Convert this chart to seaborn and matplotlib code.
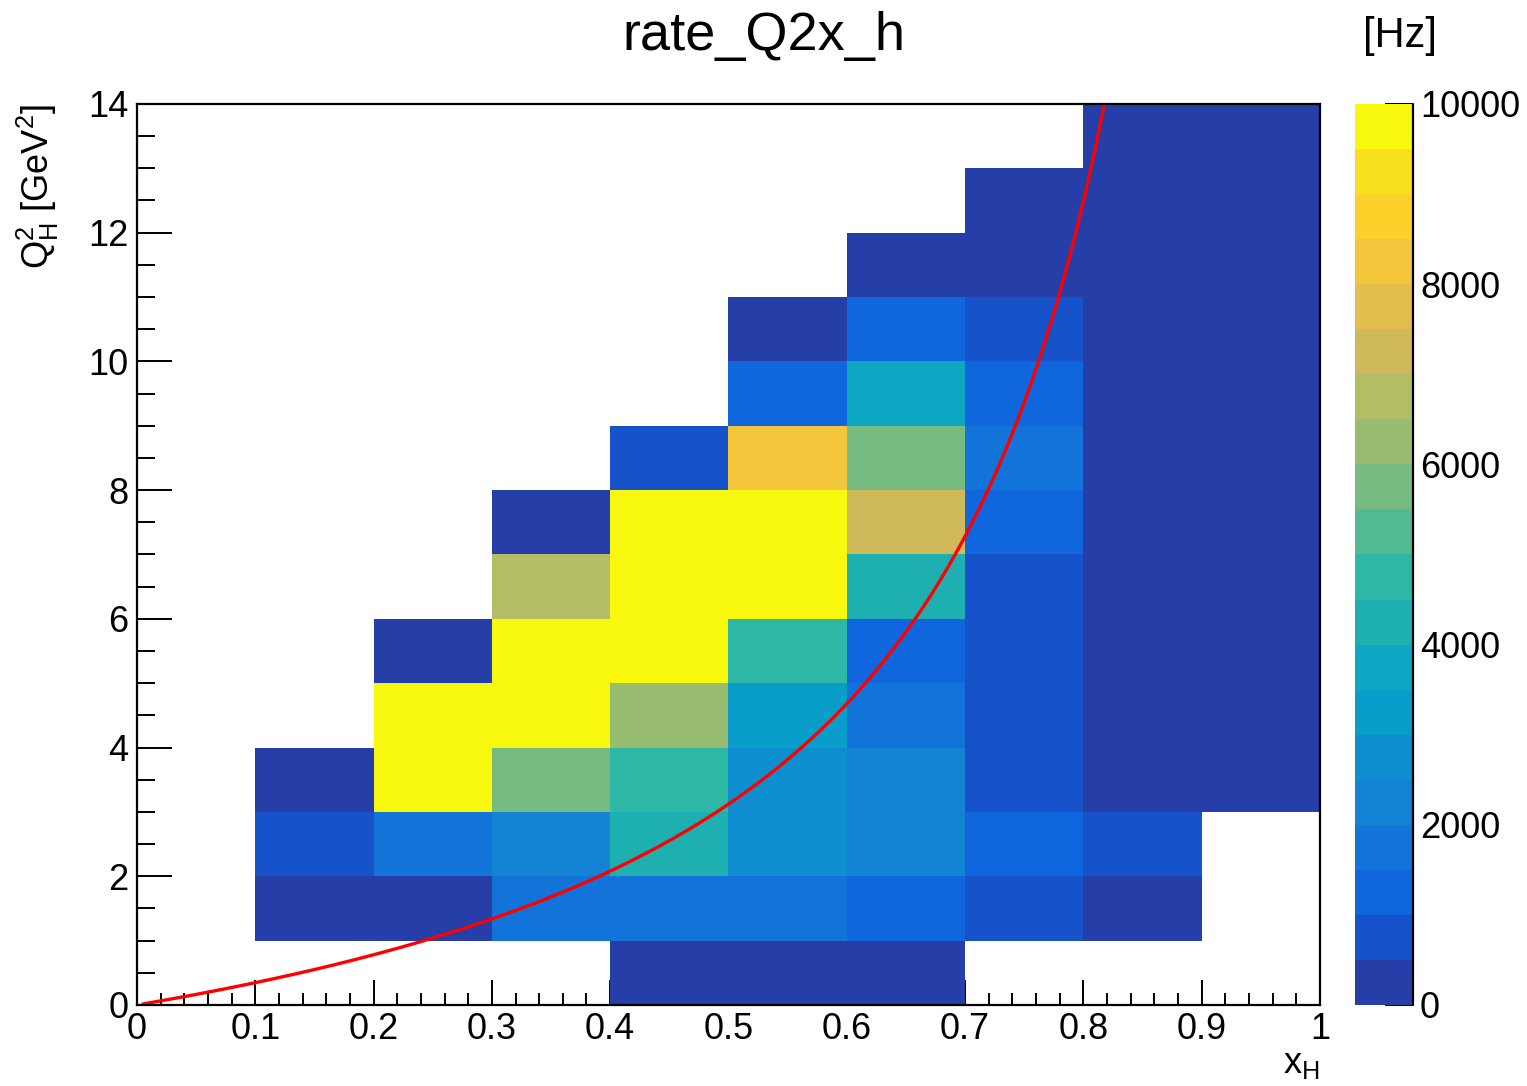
"""
rate_Q2x_h: event rate in bins of x_H and Q^2_H, drawn like a ROOT COLZ histogram.
"""

import matplotlib
matplotlib.use("Agg")
import matplotlib.pyplot as plt
from matplotlib.colors import ListedColormap
from matplotlib.ticker import MultipleLocator, FormatStrFormatter
import numpy as np
import pandas as pd
import seaborn as sns


# bin edges
X_EDGES = [0.0, 0.1, 0.2, 0.3, 0.4, 0.5, 0.6, 0.7, 0.8, 0.9, 1.0]
Q2_EDGES = [0, 1, 2, 3, 4, 5, 6, 7, 8, 9, 10, 11, 12, 13, 14]

# rate [Hz] per Q2 bin, one entry per x bin (None = empty bin)
N = None
q2_00_01 = [N, N, N, N, 250, 250, 250, N, N, N]
q2_01_02 = [N, 250, 250, 1750, 1750, 1750, 1250, 750, 250, N]
q2_02_03 = [N, 750, 1750, 2250, 4250, 2750, 2250, 1250, 750, N]
q2_03_04 = [N, 250, 9800, 5750, 4750, 2750, 2250, 750, 250, 250]
q2_04_05 = [N, N, 9800, 9800, 6250, 3250, 1750, 750, 250, 250]
q2_05_06 = [N, N, 250, 9800, 9800, 4750, 1250, 750, 250, 250]
q2_06_07 = [N, N, N, 6750, 9800, 9800, 4250, 750, 250, 250]
q2_07_08 = [N, N, N, 250, 9800, 9800, 7250, 1250, 250, 250]
q2_08_09 = [N, N, N, N, 750, 8250, 5750, 1750, 250, 250]
q2_09_10 = [N, N, N, N, N, 1250, 3750, 1250, 250, 250]
q2_10_11 = [N, N, N, N, N, 250, 1250, 750, 250, 250]
q2_11_12 = [N, N, N, N, N, N, 250, 250, 250, 250]
q2_12_13 = [N, N, N, N, N, N, N, 250, 250, 250]
q2_13_14 = [N, N, N, N, N, N, N, N, 250, 250]

RATE_ROWS = [
    q2_00_01, q2_01_02, q2_02_03, q2_03_04, q2_04_05, q2_05_06, q2_06_07,
    q2_07_08, q2_08_09, q2_09_10, q2_10_11, q2_11_12, q2_12_13, q2_13_14,
]

Z_MAX = 10000
CBAR_TICKS = [0, 2000, 4000, 6000, 8000, 10000]

# ROOT kBird palette, 20 contour levels (bottom -> top)
BIRD_LEVELS = [
    "#253ea8", "#1652c9", "#1066dc", "#1273d8", "#1483d4",
    "#0f8ecf", "#099dca", "#0ea7c3", "#1eafb1", "#2db8a5",
    "#52bb92", "#76bc80", "#98bd71", "#b3bd66", "#d0b95a",
    "#e3be4c", "#f3c63b", "#fcd12a", "#f8e01d", "#f8f80f",
]

# W = 2 GeV threshold line: Q2 = (W^2 - M^2) x / (1 - x)
W_GEV = 2.0
M_PROTON = 0.938


def build_frame() -> pd.DataFrame:
    recs = []
    for iy, row in enumerate(RATE_ROWS):
        yc = 0.5 * (Q2_EDGES[iy] + Q2_EDGES[iy + 1])
        for ix, val in enumerate(row):
            if val is None:
                continue
            xc = 0.5 * (X_EDGES[ix] + X_EDGES[ix + 1])
            recs.append({"x_h": xc, "q2_h": yc, "rate_hz": val})
    return pd.DataFrame(recs)


def main():
    sns.set_style("ticks")
    plt.rcParams["font.family"] = ["Liberation Sans", "DejaVu Sans"]
    plt.rcParams["mathtext.fontset"] = "custom"
    plt.rcParams["mathtext.rm"] = "Liberation Sans"
    plt.rcParams["mathtext.it"] = "Liberation Sans"
    for key in ("text.color", "axes.labelcolor", "xtick.color", "ytick.color",
                "xtick.labelcolor", "ytick.labelcolor", "axes.edgecolor"):
        plt.rcParams[key] = "black"

    data = build_frame()
    cmap = ListedColormap(BIRD_LEVELS)
    cmap.set_over(BIRD_LEVELS[-1])

    fig = plt.figure(figsize=(15.27, 10.86), dpi=100)
    ax = fig.add_axes([0.0897, 0.0746, 0.7747, 0.8297])
    cax = fig.add_axes([0.8874, 0.0746, 0.038, 0.8297])

    sns.histplot(
        data=data, x="x_h", y="q2_h", weights="rate_hz",
        bins=[X_EDGES, Q2_EDGES], cmap=cmap, vmin=0, vmax=Z_MAX,
        cbar=True, cbar_ax=cax, ax=ax,
    )

    # threshold curve
    xs = np.linspace(0.005, 0.9, 400)
    q2_line = (W_GEV ** 2 - M_PROTON ** 2) * xs / (1 - xs)
    sns.lineplot(x=xs, y=q2_line, color="red", linewidth=2.4, ax=ax, sort=False)

    ax.set_xlim(0, 1)
    ax.set_ylim(0, 14)
    ax.xaxis.set_major_locator(MultipleLocator(0.1))
    ax.xaxis.set_minor_locator(MultipleLocator(0.02))
    ax.yaxis.set_major_locator(MultipleLocator(2))
    ax.yaxis.set_minor_locator(MultipleLocator(0.5))
    ax.xaxis.set_major_formatter(FormatStrFormatter("%g"))
    ax.yaxis.set_major_formatter(FormatStrFormatter("%g"))
    ax.tick_params(axis="both", which="both", direction="in", top=False, right=False,
                   width=1.4, color="black", labelcolor="black", labelsize=26)
    ax.tick_params(axis="x", which="major", length=18, pad=5)
    ax.tick_params(axis="x", which="minor", length=9)
    ax.tick_params(axis="y", which="major", length=25, pad=6)
    ax.tick_params(axis="y", which="minor", length=13)
    for sp in ax.spines.values():
        sp.set_visible(True)
        sp.set_color("black")
        sp.set_linewidth(1.6)

    ax.set_xlabel(r"x$_{\mathregular{H}}$", fontsize=26, loc="right", color="black")
    ax.xaxis.set_label_coords(1.0, -0.045)
    ax.set_ylabel(r"Q$^{\mathregular{2}}_{\mathregular{H}}$ [GeV$^{\mathregular{2}}$]",
                  fontsize=26, loc="top", color="black")
    ax.yaxis.set_label_coords(-0.064, 1.0)

    # palette axis
    cbar = ax.collections[0].colorbar
    cbar.outline.set_visible(False)
    cbar.set_ticks(CBAR_TICKS)
    cax.yaxis.set_major_formatter(FormatStrFormatter("%d"))
    cax.tick_params(axis="y", which="major", direction="in", length=20, width=1.4,
                    color="black", labelcolor="black",
                    right=True, left=False, labelright=True, labelsize=26, pad=5)
    cax.minorticks_off()
    cax.plot([1, 1], [0, 1], transform=cax.transAxes, color="black",
             linewidth=1.6, clip_on=False)

    fig.text(0.5, 0.967, "rate_Q2x_h", ha="center", va="center", fontsize=39,
             color="black")
    fig.text(0.917, 0.967, "[Hz]", ha="center", va="center", fontsize=30,
             color="black")

    fig.savefig("out.png", dpi=100)


if __name__ == "__main__":
    main()
